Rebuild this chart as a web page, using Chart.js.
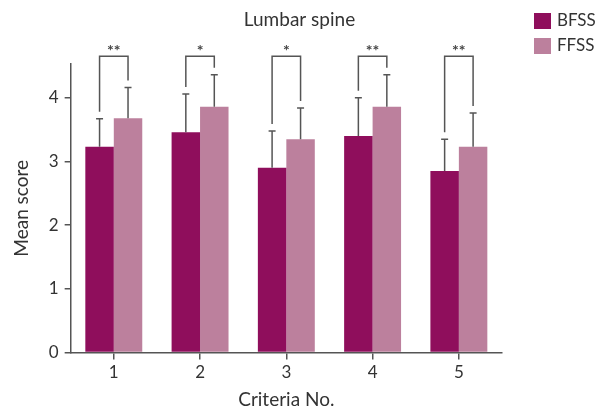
<!DOCTYPE html>
<html>
<head>
<meta charset="utf-8">
<script src="https://cdn.jsdelivr.net/npm/chart.js@4"></script>
<style>
  html, body { margin: 0; padding: 0; background: #fff; }
  #wrap { width: 599px; height: 409px; }
</style>
</head>
<body>
<div id="wrap"><canvas id="chart" width="599" height="409"></canvas></div>
<script>
// Data
const categories = ['1', '2', '3', '4', '5'];
const bfssMean = [3.23, 3.46, 2.90, 3.40, 2.85];
const bfssSd   = [0.44, 0.60, 0.58, 0.60, 0.50];
const ffssMean = [3.68, 3.86, 3.35, 3.86, 3.23];
const ffssSd   = [0.48, 0.50, 0.49, 0.50, 0.53];
const significance = ['**', '*', '*', '**', '**'];
const yTicks = [0, 1, 2, 3, 4];

const colorB = '#8f0e5c';
const colorF = '#bc809d';
const axisColor = '#555555';
const textColor = '#333333';
const fontFamily = 'Lato, "Noto Sans", sans-serif';

// Error bars (upper only) drawn on top of the bars
const errorBarPlugin = {
    id: 'errorBars',
    afterDatasetsDraw(chart) {
        const ctx = chart.ctx;
        const yScale = chart.scales.y;
        const sds = [bfssSd, ffssSd];
        ctx.save();
        ctx.strokeStyle = axisColor;
        ctx.lineWidth = 1.5;
        chart.data.datasets.forEach((ds, i) => {
            const meta = chart.getDatasetMeta(i);
            meta.data.forEach((bar, j) => {
                const top = yScale.getPixelForValue(ds.data[j] + sds[i][j]);
                ctx.beginPath();
                ctx.moveTo(bar.x, bar.y);
                ctx.lineTo(bar.x, top);
                ctx.moveTo(bar.x - 3.5, top);
                ctx.lineTo(bar.x + 3.5, top);
                ctx.stroke();
            });
        });
        ctx.restore();
    }
};

// Significance brackets above each pair
const bracketPlugin = {
    id: 'brackets',
    afterDatasetsDraw(chart) {
        const ctx = chart.ctx;
        const yScale = chart.scales.y;
        const m0 = chart.getDatasetMeta(0);
        const m1 = chart.getDatasetMeta(1);
        const level = yScale.getPixelForValue(4.65);
        ctx.save();
        ctx.strokeStyle = axisColor;
        ctx.lineWidth = 1.5;
        ctx.fillStyle = '#444444';
        ctx.font = 'bold 16px ' + fontFamily;
        ctx.textAlign = 'center';
        ctx.textBaseline = 'middle';
        categories.forEach((c, j) => {
            const xl = m0.data[j].x;
            const xr = m1.data[j].x;
            const yl = yScale.getPixelForValue(bfssMean[j] + bfssSd[j]) - 7;
            const yr = yScale.getPixelForValue(ffssMean[j] + ffssSd[j]) - 7;
            ctx.beginPath();
            ctx.moveTo(xl, yl);
            ctx.lineTo(xl, level);
            ctx.lineTo(xr, level);
            ctx.lineTo(xr, yr);
            ctx.stroke();
            ctx.fillText(significance[j], (xl + xr) / 2, level - 6);
        });
        ctx.restore();
    }
};

// Title and legend at the top
const headerPlugin = {
    id: 'header',
    afterDraw(chart) {
        const ctx = chart.ctx;
        ctx.save();
        ctx.fillStyle = textColor;
        ctx.font = '19px ' + fontFamily;
        ctx.textAlign = 'center';
        ctx.textBaseline = 'middle';
        ctx.fillText('Lumbar spine', 299.5, 20);

        ctx.font = '17px ' + fontFamily;
        ctx.textAlign = 'left';
        chart.data.datasets.forEach((ds, i) => {
            const y = 13 + i * 25;
            ctx.fillStyle = ds.backgroundColor;
            ctx.fillRect(534, y, 17, 16);
            ctx.fillStyle = textColor;
            ctx.fillText(ds.label, 557, y + 8);
        });
        ctx.restore();
    }
};

new Chart(document.getElementById('chart'), {
    type: 'bar',
    data: {
        labels: categories,
        datasets: [
            { label: 'BFSS', data: bfssMean, backgroundColor: colorB },
            { label: 'FFSS', data: ffssMean, backgroundColor: colorF }
        ]
    },
    options: {
        responsive: false,
        animation: false,
        datasets: { bar: { categoryPercentage: 0.66, barPercentage: 1.0 } },
        layout: { padding: { left: 10, right: 97, top: 64, bottom: 0 } },
        plugins: {
            legend: { display: false },
            tooltip: { enabled: false },
            title: { display: false }
        },
        scales: {
            x: {
                grid: { display: true, drawOnChartArea: false, offset: false, tickLength: 7, color: axisColor, lineWidth: 1.5 },
                border: { display: true, color: axisColor, width: 1.5 },
                ticks: { color: textColor, font: { family: fontFamily, size: 17 }, padding: 3 },
                title: {
                    display: true,
                    text: 'Criteria No.',
                    color: textColor,
                    font: { family: fontFamily, size: 19, lineHeight: 1 },
                    padding: { top: 4, bottom: 0 }
                }
            },
            y: {
                min: 0,
                max: 4.53,
                afterBuildTicks(axis) {
                    axis.ticks = yTicks.map(v => ({ value: v }));
                },
                grid: { display: true, drawOnChartArea: false, tickLength: 6, color: axisColor, lineWidth: 1.5 },
                border: { display: true, color: axisColor, width: 1.5 },
                ticks: { color: textColor, font: { family: fontFamily, size: 17 }, padding: 6 },
                title: {
                    display: true,
                    text: 'Mean score',
                    color: textColor,
                    font: { family: fontFamily, size: 19, lineHeight: 1.2 },
                    padding: { top: 0, bottom: 10 }
                }
            }
        }
    },
    plugins: [errorBarPlugin, bracketPlugin, headerPlugin]
});
</script>
</body>
</html>
